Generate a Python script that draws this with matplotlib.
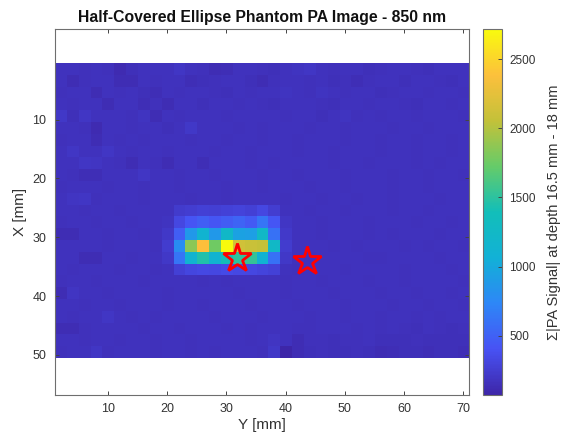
import numpy as np
import matplotlib
matplotlib.use("Agg")
import matplotlib.pyplot as plt
from matplotlib.colors import LinearSegmentedColormap

plt.rcParams["font.family"] = ["Liberation Sans", "DejaVu Sans"]

# Lateral grid (mm): 35 columns along Y, 25 rows along X
y_mm = np.arange(2, 71, 2)
x_mm = np.arange(1.5, 50, 2)

# Summed |PA| signal per pixel (rows follow x_mm, columns follow y_mm)
signal = np.array([
    [170, 165, 160, 168, 158, 120, 145, 175, 168, 165, 200, 168, 160, 125, 140, 168, 175, 158, 145, 168, 182, 205, 175, 158, 165, 168, 150, 158, 168, 175, 160, 148, 165, 172, 168],
    [165, 125, 158, 168, 175, 130, 132, 165, 160, 175, 165, 140, 145, 158, 168, 165, 152, 130, 158, 175, 168, 160, 165, 152, 158, 135, 160, 172, 165, 152, 172, 165, 158, 148, 165],
    [160, 168, 175, 130, 165, 160, 172, 148, 140, 168, 158, 165, 175, 160, 150, 168, 158, 165, 175, 180, 165, 158, 185, 168, 160, 165, 172, 145, 158, 168, 165, 160, 172, 165, 158],
    [168, 158, 165, 168, 128, 165, 175, 138, 158, 130, 165, 168, 152, 175, 165, 160, 168, 158, 150, 168, 175, 165, 160, 148, 172, 165, 158, 168, 165, 160, 150, 175, 165, 158, 168],
    [215, 150, 205, 165, 175, 168, 158, 180, 130, 165, 160, 175, 168, 165, 158, 175, 165, 168, 175, 158, 165, 168, 150, 172, 180, 160, 165, 158, 175, 168, 158, 165, 175, 168, 160],
    [165, 175, 160, 122, 168, 165, 158, 175, 168, 148, 165, 210, 168, 165, 175, 160, 165, 158, 168, 175, 165, 160, 175, 168, 158, 165, 175, 168, 160, 165, 175, 158, 168, 165, 175],
    [158, 168, 165, 125, 175, 160, 168, 158, 175, 165, 168, 160, 175, 168, 158, 165, 175, 160, 168, 165, 158, 175, 168, 165, 160, 175, 168, 158, 165, 175, 160, 168, 165, 158, 168],
    [168, 205, 165, 175, 200, 168, 160, 172, 165, 158, 168, 175, 165, 160, 172, 168, 158, 165, 175, 168, 160, 165, 172, 158, 168, 175, 165, 160, 172, 165, 158, 168, 175, 160, 165],
    [165, 172, 200, 195, 168, 158, 130, 165, 160, 132, 168, 165, 135, 168, 175, 165, 160, 168, 158, 165, 175, 168, 165, 160, 172, 165, 158, 168, 165, 175, 160, 165, 158, 168, 172],
    [175, 158, 135, 138, 165, 168, 175, 200, 168, 165, 160, 172, 165, 158, 168, 165, 175, 160, 165, 172, 158, 168, 175, 165, 160, 168, 165, 172, 158, 168, 165, 160, 175, 165, 158],
    [158, 168, 165, 175, 158, 165, 168, 160, 175, 165, 158, 168, 175, 165, 160, 175, 165, 158, 168, 165, 175, 160, 165, 172, 158, 168, 175, 165, 160, 165, 172, 158, 168, 175, 165],
    [168, 192, 200, 160, 168, 175, 165, 158, 168, 172, 165, 160, 168, 175, 158, 165, 168, 175, 165, 160, 168, 165, 158, 175, 168, 160, 165, 172, 158, 168, 165, 175, 160, 165, 168],
    [165, 175, 158, 168, 165, 158, 168, 175, 165, 170, 230, 255, 270, 260, 280, 290, 270, 330, 250, 175, 168, 160, 172, 165, 158, 168, 175, 165, 160, 172, 165, 158, 168, 165, 175],
    [160, 165, 172, 158, 168, 175, 160, 165, 172, 185, 330, 420, 480, 430, 470, 520, 460, 620, 430, 200, 165, 172, 160, 168, 175, 165, 158, 168, 175, 165, 160, 168, 172, 158, 165],
    [130, 128, 165, 175, 158, 168, 165, 160, 168, 215, 480, 870, 1130, 870, 1230, 950, 920, 1240, 600, 220, 175, 165, 158, 168, 165, 172, 160, 165, 158, 168, 175, 165, 160, 168, 172],
    [168, 165, 175, 165, 160, 172, 168, 165, 158, 240, 790, 1850, 2380, 1760, 2717, 2130, 2090, 2060, 1240, 240, 165, 168, 175, 160, 165, 158, 168, 172, 165, 160, 168, 158, 175, 165, 160],
    [165, 172, 130, 128, 168, 165, 158, 175, 168, 215, 620, 1130, 1450, 1130, 1400, 1500, 1530, 1100, 600, 210, 168, 158, 165, 175, 168, 165, 160, 158, 168, 175, 165, 168, 160, 172, 165],
    [172, 160, 168, 165, 175, 158, 165, 168, 160, 175, 270, 310, 340, 320, 350, 335, 320, 300, 280, 175, 160, 168, 172, 165, 158, 175, 168, 165, 172, 160, 165, 175, 168, 158, 168],
    [160, 168, 172, 158, 165, 168, 175, 158, 165, 168, 175, 165, 160, 168, 158, 165, 175, 168, 165, 160, 172, 165, 158, 168, 175, 165, 160, 168, 165, 158, 168, 165, 175, 168, 160],
    [125, 195, 165, 168, 158, 175, 165, 168, 172, 160, 165, 168, 175, 165, 168, 160, 165, 172, 168, 158, 165, 175, 168, 160, 165, 172, 168, 158, 165, 168, 160, 172, 165, 158, 165],
    [168, 165, 160, 172, 165, 158, 168, 175, 165, 160, 168, 165, 158, 175, 168, 165, 160, 168, 175, 165, 158, 168, 165, 172, 160, 168, 165, 175, 158, 168, 165, 160, 168, 165, 158],
    [165, 158, 168, 165, 205, 168, 160, 165, 158, 168, 175, 165, 168, 160, 165, 172, 168, 158, 165, 168, 175, 160, 165, 168, 158, 165, 168, 160, 175, 165, 158, 168, 160, 165, 168],
    [130, 125, 160, 168, 165, 172, 165, 158, 168, 165, 160, 175, 165, 168, 158, 165, 160, 168, 172, 165, 160, 158, 168, 165, 175, 160, 165, 158, 165, 160, 152, 165, 158, 152, 160],
    [165, 168, 158, 165, 168, 160, 172, 165, 160, 168, 165, 158, 168, 165, 175, 168, 160, 165, 195, 168, 130, 158, 160, 152, 158, 160, 165, 150, 145, 152, 158, 150, 145, 152, 150],
    [158, 165, 172, 200, 160, 168, 165, 175, 158, 165, 168, 160, 165, 158, 168, 165, 175, 160, 210, 72, 125, 150, 158, 145, 152, 158, 150, 130, 135, 145, 152, 140, 150, 145, 140],
])

# Marked target positions (Y, X) in mm
star_y = [31.8, 43.6]
star_x = [33.6, 34.0]

xtick_vals = [10, 20, 30, 40, 50, 60, 70]
ytick_vals = [10, 20, 30, 40, 50]
cbar_ticks = [500, 1000, 1500, 2000, 2500]

parula = LinearSegmentedColormap.from_list("parula", [
    (0.000, (0.2422, 0.1504, 0.6603)),
    (0.125, (0.2810, 0.3228, 0.9579)),
    (0.250, (0.1786, 0.5289, 0.9682)),
    (0.375, (0.0689, 0.6948, 0.8394)),
    (0.500, (0.0704, 0.7457, 0.7265)),
    (0.625, (0.3965, 0.7974, 0.4127)),
    (0.750, (0.7644, 0.7584, 0.2248)),
    (0.875, (0.9892, 0.7525, 0.2351)),
    (1.000, (0.9763, 0.9831, 0.0538)),
], N=256)

fig = plt.figure(figsize=(5.65, 4.43), dpi=100)
ax = fig.add_axes([0.097, 0.1084, 0.7335, 0.8261])
cax = fig.add_axes([0.855, 0.1084, 0.0336, 0.8261])

dx = y_mm[1] - y_mm[0]
dy = x_mm[1] - x_mm[0]
im = ax.imshow(signal, cmap=parula, origin="upper", aspect="auto",
               interpolation="nearest",
               vmin=signal.min(), vmax=signal.max(),
               extent=[y_mm[0] - dx / 2, y_mm[-1] + dx / 2,
                       x_mm[-1] + dy / 2, x_mm[0] - dy / 2])

ax.plot(star_y, star_x, linestyle="none", marker="*", markersize=21,
        markerfacecolor="none", markeredgecolor="red", markeredgewidth=2.0)

ax.set_xlim(1, 71)
ax.set_ylim(56.8, -5.4)
ax.set_xticks(xtick_vals)
ax.set_yticks(ytick_vals)

text_col = "#333333"
edge_col = "#6e6e6e"
for sp in ax.spines.values():
    sp.set_color(edge_col)
    sp.set_linewidth(0.8)
ax.tick_params(direction="in", length=3, width=0.7, color="#444444",
               labelsize=9, labelcolor=text_col,
               top=True, right=True, pad=6)
ax.set_xlabel("Y [mm]", fontsize=11, color=text_col, labelpad=2)
ax.set_ylabel("X [mm]", fontsize=11, color=text_col, labelpad=4)
ax.set_title("Half-Covered Ellipse Phantom PA Image - 850 nm",
             fontsize=11.3, fontweight="bold", color="#111111", pad=5)

cb = fig.colorbar(im, cax=cax, ticks=cbar_ticks)
cb.outline.set_edgecolor(edge_col)
cb.outline.set_linewidth(0.8)
cax.tick_params(direction="in", length=3, width=0.7, color="#444444",
                labelsize=8.5, labelcolor=text_col, pad=5)
cb.set_label("Σ|PA Signal| at depth 16.5 mm - 18 mm", fontsize=10.5,
             color=text_col, labelpad=8)

fig.savefig("out.png", dpi=100)
